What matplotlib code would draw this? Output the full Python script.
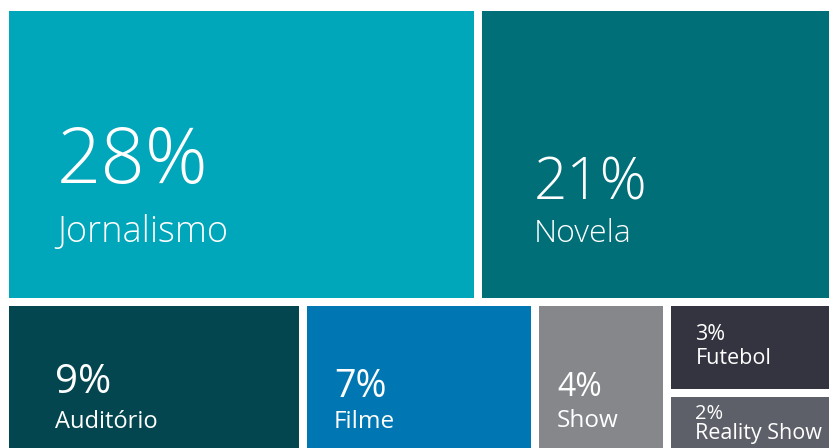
import matplotlib
matplotlib.use("Agg")
import matplotlib.pyplot as plt
from matplotlib.patches import Rectangle

# dados do treemap (percentual da audiência por gênero)
categorias = ["Jornalismo", "Novela", "Auditório", "Filme", "Show", "Futebol", "Reality Show"]
valores = [28, 21, 9, 7, 4, 3, 2]
rotulos = [f"{v}%" for v in valores]

# linhas do treemap; tupla = caixas empilhadas na mesma coluna
linhas = [[0, 1], [2, 3, 4, (5, 6)]]

cores = ["#00A6B9", "#006F78", "#03464F", "#0077B2", "#85878B", "#33343F", "#5D6068"]
# tamanho da porcentagem, tamanho do nome, peso
fontes = [(56, 26, "light"), (42, 23, "light"), (29, 17, "normal"), (27, 17.5, "normal"),
          (23, 17.5, "normal"), (15.5, 15.5, "normal"), (14.5, 15.5, "normal")]
# deslocamento do texto (x, base da porcentagem, base do nome) a partir do canto
desloc = [(48, 172, 231), (52, 189, 231), (46, 87, 122), (27, 91, 122),
          (18, 90, 121), (24, 34, 58), (24, 22, 42)]

gap = 4


def layout(x0, y0, w, h):
    rects = {}
    total = sum(valores)
    y = y0
    for linha in linhas:
        grupos = [g if isinstance(g, tuple) else (g,) for g in linha]
        soma = sum(valores[i] for g in grupos for i in g)
        hl = h * soma / total
        x = x0
        for g in grupos:
            sg = sum(valores[i] for i in g)
            wg = w * sg / soma
            yy = y
            for i in g:
                hi = hl * valores[i] / sg
                rects[i] = (x, yy, wg, hi)
                yy += hi
            x += wg
        y += hl
    return rects


fig = plt.figure(figsize=(8.32, 4.48), dpi=100)
ax = fig.add_axes([0, 0, 1, 1])
ax.set_xlim(0, 832)
ax.set_ylim(448, 0)
ax.axis("off")

rects = layout(5, 7, 828, 446)
for i in range(len(categorias)):
    x, y, w, h = rects[i]
    ax.add_patch(Rectangle((x + gap, y + gap), w - 2 * gap, h - 2 * gap,
                           facecolor=cores[i], edgecolor="none"))
    dx, dy1, dy2 = desloc[i]
    tam1, tam2, peso = fontes[i]
    ax.text(x + gap + dx, y + gap + dy1, rotulos[i], color="white", fontsize=tam1,
            family="Open Sans", weight=peso, va="baseline", ha="left")
    ax.text(x + gap + dx, y + gap + dy2, categorias[i], color="white", fontsize=tam2,
            family="Open Sans", weight=peso, va="baseline", ha="left")

fig.savefig("out.png", dpi=100)
